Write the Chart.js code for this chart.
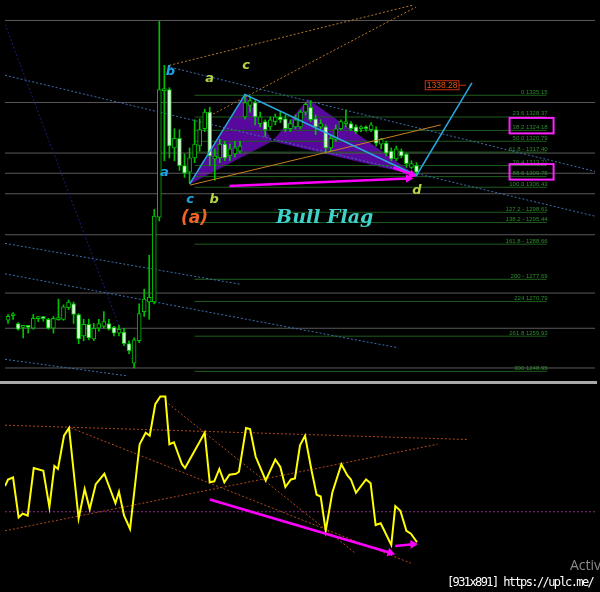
<!DOCTYPE html>
<html>
<head>
<meta charset="utf-8">
<script src="https://cdn.jsdelivr.net/npm/chart.js@4.4.1/dist/chart.umd.min.js"></script>
<style>
  html, body { margin: 0; padding: 0; background: #000; width: 600px; height: 592px; overflow: hidden; }
  #topBox { position: absolute; left: 0; top: 0; width: 600px; height: 381px; }
  #sep { position: absolute; left: 0; top: 381px; width: 597px; height: 3px; background: #a9a9a9; }
  #botBox { position: absolute; left: 0; top: 384px; width: 600px; height: 208px; }
  #activ { position: absolute; left: 570px; top: 555px; color: #8a8a8a; font: 14px "Open Sans", sans-serif; }
  #stamp { position: absolute; left: 447px; top: 575px; color: #fff; font: 12px "DejaVu Sans Mono", monospace;
           letter-spacing: -1.6px; text-shadow: 0 0 2px #000, 0 0 2px #000; white-space: nowrap; }
</style>
</head>
<body>
<div id="topBox"><canvas id="price-chart"></canvas></div>
<div id="sep"></div>
<div id="botBox"><canvas id="osc-chart"></canvas></div>
<div id="activ">Activ</div>
<div id="stamp">[931x891] https://uplc.me/</div>

<script>
// ---- candles (bar index = position in array) ----
const candleOpen  = [1264.9,1266.3,1263.9,1262.7,1262.8,1262.4,1265.4,1265.5,1265.2,1262.4,
                     1265.1,1265.2,1268.8,1270.0,1266.7,1260.0,1263.6,1259.1,1262.4,1263.0,
                     1263.9,1262.7,1260.9,1261.2,1257.6,1251.5,1258.5,1267.6,1270.6,1270.6,
                     1297.1,1336.6,1336.9,1318.7,1321.7,1313.2,1311.1,1315.6,1319.3,1324.7,
                     1329.9,1315.3,1315.6,1319.9,1316.2,1316.8,1317.7,1328.4,1332.0,1332.9,
                     1326.3,1326.9,1325.3,1326.9,1328.4,1327.8,1324.7,1325.3,1325.3,1329.9,
                     1331.4,1327.8,1325.3,1325.3,1318.7,1321.4,1324.7,1326.3,1326.3,1325.3,
                     1324.7,1324.8,1324.4,1324.4,1319.9,1320.2,1317.7,1315.3,1317.7,1316.8,
                     1312.6,1313.2];
const candleHigh  = [1266.7,1267.3,1264.2,1263.0,1263.0,1266.7,1266.1,1266.1,1265.5,1266.1,
                     1271.5,1269.7,1271.2,1270.6,1267.0,1265.2,1265.2,1263.9,1265.2,1267.6,
                     1265.2,1263.0,1263.3,1262.4,1258.5,1259.4,1270.0,1274.6,1285.2,1299.5,
                     1358.2,1344.5,1337.5,1324.7,1324.4,1316.8,1318.7,1327.5,1327.8,1330.8,
                     1331.4,1318.4,1321.4,1320.8,1319.9,1320.8,1320.8,1335.4,1334.5,1333.5,
                     1329.9,1327.5,1328.4,1329.3,1329.9,1329.0,1327.5,1329.0,1330.5,1332.9,
                     1333.5,1329.0,1327.5,1325.9,1322.3,1325.9,1327.5,1330.5,1326.9,1325.9,
                     1325.6,1325.6,1326.6,1325.3,1321.7,1320.8,1318.7,1319.3,1318.4,1317.1,
                     1314.7,1314.1];
const candleLow   = [1263.9,1265.2,1261.8,1259.4,1260.9,1262.1,1264.5,1264.6,1262.1,1260.9,
                     1264.9,1264.9,1268.2,1263.9,1257.6,1258.5,1258.8,1258.5,1261.5,1262.4,
                     1261.8,1260.0,1260.0,1257.0,1254.5,1250.0,1257.9,1266.1,1265.2,1270.0,
                     1295.9,1314.7,1315.6,1314.7,1311.7,1309.5,1307.7,1314.1,1317.7,1323.8,
                     1313.2,1308.6,1314.1,1314.7,1314.7,1315.9,1317.1,1327.8,1329.9,1325.9,
                     1325.3,1322.3,1324.4,1325.9,1326.6,1323.8,1323.8,1324.7,1324.7,1329.0,
                     1326.9,1322.9,1324.7,1317.1,1317.7,1320.8,1324.4,1325.3,1324.1,1323.2,
                     1323.8,1323.9,1323.8,1319.3,1318.4,1316.2,1314.7,1314.7,1315.6,1312.6,
                     1312.3,1310.1];
const candleClose = [1266.1,1266.4,1262.1,1262.8,1262.7,1265.5,1265.5,1265.4,1262.4,1265.5,
                     1265.2,1269.1,1270.6,1266.7,1259.1,1263.6,1259.4,1262.4,1263.9,1264.5,
                     1262.1,1260.9,1262.1,1257.6,1255.4,1258.8,1267.0,1271.5,1272.1,1297.4,
                     1336.9,1337.2,1319.3,1321.7,1313.2,1310.8,1315.6,1319.9,1324.4,1329.9,
                     1316.2,1316.2,1319.9,1315.6,1318.4,1318.7,1319.3,1332.9,1333.5,1328.4,
                     1328.4,1324.4,1327.5,1328.4,1327.5,1324.7,1326.3,1327.5,1329.9,1332.3,
                     1327.5,1325.3,1326.3,1318.7,1321.7,1324.7,1326.9,1326.5,1324.7,1323.8,
                     1324.8,1324.7,1325.9,1320.2,1321.4,1317.1,1315.3,1318.4,1316.2,1313.8,
                     1313.8,1311.1];

// ---- fibonacci levels ----
const fibPct   = ['0', '23.6', '38.2', '50.0', '61.8 -', '76.4', '88.6', '100.0',
                  '127.2 -', '138.2 -', '161.8 -', '200 -', '224', '261.8', '300'];
const fibPrice = [1335.15, 1328.37, 1324.18, 1320.79, 1317.40, 1313.21, 1309.75, 1306.43,
                  1298.61, 1295.44, 1288.66, 1277.69, 1270.79, 1259.93, 1248.95];
const fibBoxed = ['38.2', '88.6'];
const fibFrom = 37, fibTo = 106.8;

// ---- horizontal lines (price) ----
const hLines = [1358.5, 1332.9, 1317.1, 1310.8, 1304.4, 1291.6, 1273.4, 1262.4, 1250.0];

// ---- pattern points X A B C D and projection ----
const patX = [36, 47, 52.4, 59.5, 81, 92];
const patY = [1307.4, 1335.4, 1320.8, 1333.9, 1310.1, 1339.0];
const targetPrice = 1338.28;

// ---- trend lines [x, price] ----
const blueDotted = [
  [[32.2, 1343.9], [116.4, 1311.4]],
  [[-0.6, 1341.4], [116.4, 1297.4]],
  [[-0.6, 1288.9], [46.2, 1276.1]],
  [[-0.6, 1279.4], [77.4, 1256.3]],
  [[-0.6, 1252.7], [23.8, 1247.5]]
];
const navyDotted = [[-0.6, 1357.3], [24.8, 1251.5]];
const orangeDotted = [
  [[32.0, 1344.5], [80.3, 1363.3]],
  [[40.7, 1329.3], [80.9, 1362.7]]
];
const orangeSolid = [[36.1, 1307.1], [85.8, 1325.9]];
const arrowMain = [[43.9, 1306.8], [79.4, 1309.2]];
const arrowSmall = [[76.4, 1312.6], [80.1, 1310.4]];

// ---- text marks [text, x, price] ----
const notesCyan   = [['b', 32.2, 1342.6], ['a', 31.0, 1311.1], ['c', 36.1, 1302.5]];
const notesYellow = [['a', 40.0, 1340.2], ['c', 47.2, 1344.5], ['b', 40.9, 1302.5], ['d', 81.1, 1305.3]];
const noteWave = ['(a)', 37.0, 1296.8];
const noteTitle = ['Bull Flag', 62.8, 1296.8];

// ---- oscillator (lower pane) ----
const oscX = [-0.6, 0, 1, 2.1, 2.9, 3.9, 5.1, 7, 8.2, 9.2, 9.9, 11.1, 12.1, 14, 15.2, 16.2, 17.4, 19.1,
              21.3, 22, 23, 24.2, 26.1, 27.3, 28.1, 29.2, 30.2, 31.2, 32, 32.9, 34.5, 35.1, 39, 40,
              40.9, 41.9, 42.9, 43.9, 45.2, 45.8, 47.2, 48, 49.1, 51.1, 53, 54, 55, 56.1, 56.9, 57.9,
              58.9, 60.2, 61.2, 62, 63, 64.3, 66.1, 67.3, 68, 69, 71, 71.9, 72.9, 73.9, 76, 76.8,
              77.8, 79, 79.9, 81.1];
const oscY = [51, 54.3, 55.3, 35.1, 37, 36.1, 60.1, 58.7, 40.4, 61.1, 59.6, 76.4, 80.3, 34.6, 49.5,
              39.4, 51.9, 57.2, 42.3, 48.1, 36.1, 29.3, 72.1, 77.9, 76.4, 92.3, 96.2, 96.2, 72.1,
              73.1, 62, 60.1, 77.9, 52.9, 53.4, 59.6, 52.9, 56.7, 57.2, 58.2, 80.3, 79.8, 65.9,
              53.8, 64.4, 60.6, 50.5, 54.3, 54.8, 71.6, 76.4, 58.7, 46.6, 45.7, 28.4, 47.6, 62,
              56.3, 54.3, 47.6, 54.3, 52.4, 31.3, 32.2, 21.2, 40.9, 38.5, 28.4, 26.9, 22.6];
const oscLevel = 38;
const oscOrange = [
  [[-0.6, 81.7], [91.0, 74.5]],
  [[-0.6, 28.4], [85.2, 72.1]],
  [[31.2, 93.8], [69.0, 16.8]],
  [[12.5, 80.3], [79.9, 12.0]]
];
const oscArrowMain = [[40.0, 44.2], [75.8, 17.3]];
const oscArrowSmall = [[76.8, 20.7], [80.3, 21.6]];

// ---------------------------------------------------------------
const GREEN = '#00c000';
const PURPLE = '#58089c';
const pts = arr => arr.map(p => ({ x: p[0], y: p[1] }));

function seg(points, color, extra) {
  return Object.assign({
    type: 'line', data: pts(points), borderColor: color, borderWidth: 1,
    pointRadius: 0, fill: false, tension: 0, order: 7
  }, extra || {});
}

function arrow(points, rot, order) {
  return seg(points, '#ff00ff', {
    borderWidth: 2.5, order: order,
    pointRadius: [0, 5], pointStyle: 'triangle', rotation: [0, rot],
    pointBackgroundColor: '#ff00ff', pointBorderColor: '#ff00ff', pointBorderWidth: 0
  });
}

const xScale = { type: 'linear', min: -0.6, max: 116.4, offset: false, display: false };

// text overlay for the price pane
const priceNotes = {
  id: 'priceNotes',
  afterDatasetsDraw(chart) {
    const { ctx, scales: { x, y } } = chart;
    ctx.save();
    ctx.textAlign = 'center';
    ctx.textBaseline = 'middle';
    ctx.font = 'bold italic 13px "DejaVu Sans"';
    ctx.fillStyle = '#1aa6e6';
    notesCyan.forEach(n => ctx.fillText(n[0], x.getPixelForValue(n[1]), y.getPixelForValue(n[2])));
    ctx.fillStyle = '#b4d445';
    notesYellow.forEach(n => ctx.fillText(n[0], x.getPixelForValue(n[1]), y.getPixelForValue(n[2])));
    ctx.font = 'bold italic 17px "DejaVu Sans"';
    ctx.fillStyle = '#f06428';
    ctx.fillText(noteWave[0], x.getPixelForValue(noteWave[1]), y.getPixelForValue(noteWave[2]));
    ctx.font = 'bold italic 19px "DejaVu Serif"';
    ctx.fillStyle = '#3ed2c8';
    ctx.fillText(noteTitle[0], x.getPixelForValue(noteTitle[1]), y.getPixelForValue(noteTitle[2]));

    // fib labels
    ctx.font = '6px "Liberation Sans"';
    ctx.textAlign = 'right';
    ctx.textBaseline = 'alphabetic';
    const rx = x.getPixelForValue(fibTo) + 1;
    fibPrice.forEach((p, i) => {
      const py = y.getPixelForValue(p);
      const label = fibPct[i] + ' ' + p.toFixed(2);
      ctx.fillStyle = '#2e8b2e';
      ctx.fillText(label, rx, py - 1.5);
      if (fibBoxed.indexOf(fibPct[i]) >= 0) {
        const w = ctx.measureText(label).width;
        ctx.strokeStyle = '#ff20ff';
        ctx.lineWidth = 2;
        ctx.strokeRect(rx - w - 3, py - 12.5, w + 9, 15.5);
      }
    });

    // projection target tag
    const right = x.getPixelForValue(patX[5]) - 13;
    const ty = y.getPixelForValue(targetPrice);
    ctx.font = '8.5px "Liberation Sans"';
    ctx.textAlign = 'right';
    ctx.textBaseline = 'middle';
    const tw = ctx.measureText('1338.28').width;
    ctx.fillStyle = '#e05a10';
    ctx.fillText(targetPrice.toFixed(2), right - 1.5, ty);
    ctx.strokeStyle = '#c83210';
    ctx.lineWidth = 1;
    ctx.strokeRect(right - tw - 3, ty - 4.5, tw + 3, 9);
    ctx.beginPath();
    ctx.moveTo(right, ty);
    ctx.lineTo(right + 7, ty);
    ctx.stroke();
    ctx.restore();
  }
};

const idx = candleOpen.map((_, i) => i);
const bull = idx.map(i => candleClose[i] >= candleOpen[i]);

const priceDatasets = [
  // purple harmonic triangles
  seg([[patX[0], patY[0]], [patX[1], patY[1]], [patX[2], patY[2]], [patX[0], patY[0]]], 'rgba(0,0,0,0)',
      { fill: 'shape', backgroundColor: PURPLE, borderWidth: 0, order: 12 }),
  seg([[patX[2], patY[2]], [patX[3], patY[3]], [patX[4], patY[4]], [patX[2], patY[2]]], 'rgba(0,0,0,0)',
      { fill: 'shape', backgroundColor: PURPLE, borderWidth: 0, order: 12 }),
  // candle wicks and bodies
  {
    type: 'bar', order: 5, grouped: false, barThickness: 1,
    data: idx.map(i => ({ x: i, y: [candleLow[i], candleHigh[i]] })),
    backgroundColor: GREEN, borderWidth: 0
  },
  {
    type: 'bar', order: 4, grouped: false, barThickness: 4, minBarLength: 2,
    data: idx.map(i => ({ x: i, y: [Math.min(candleOpen[i], candleClose[i]), Math.max(candleOpen[i], candleClose[i])] })),
    backgroundColor: idx.map(i => bull[i] ? '#000' : '#d8ffd8'),
    borderColor: GREEN, borderWidth: 1, borderSkipped: false
  },
  // XA, AD legs and projection
  seg([[patX[0], patY[0]], [patX[1], patY[1]], [patX[4], patY[4]], [patX[5], patY[5]]], '#2aa8e0',
      { borderWidth: 1.5, order: 3 }),
  seg(orangeSolid, '#c8801e', { order: 3 }),
  seg(navyDotted, '#1c1c78', { borderDash: [2, 2], order: 9 }),
  arrow(arrowMain, 88, 1),
  arrow(arrowSmall, 112, 1)
];
hLines.forEach(p => priceDatasets.push(seg([[-0.6, p], [116.4, p]], '#5a5a5a', { order: 11 })));
fibPrice.forEach(p => priceDatasets.push(seg([[fibFrom, p], [fibTo, p]], '#1e5e1e', { order: 10 })));
blueDotted.forEach(l => priceDatasets.push(seg(l, '#3d6fae', { borderDash: [2, 2], order: 8 })));
orangeDotted.forEach(l => priceDatasets.push(seg(l, '#b5772a', { borderDash: [2, 2], order: 8 })));

new Chart(document.getElementById('price-chart'), {
  type: 'bar',
  data: { datasets: priceDatasets },
  options: {
    responsive: true, maintainAspectRatio: false, animation: false, events: [],
    layout: { padding: 0 },
    plugins: { legend: { display: false }, tooltip: { enabled: false } },
    scales: { x: xScale, y: { type: 'linear', min: 1247.5, max: 1363.33, display: false } }
  },
  plugins: [priceNotes]
});

// lower pane
const oscDatasets = [
  seg(oscX.map((v, i) => [v, oscY[i]]), '#ffff00', { borderWidth: 2, order: 2 }),
  seg([[-0.6, oscLevel], [116.4, oscLevel]], '#8a2a8a', { borderDash: [2, 2], order: 9 }),
  arrow(oscArrowMain, 107, 1),
  arrow(oscArrowSmall, 87, 1)
];
oscOrange.forEach(l => oscDatasets.push(seg(l, '#b04a1e', { borderDash: [2, 2], order: 8 })));

new Chart(document.getElementById('osc-chart'), {
  type: 'line',
  data: { datasets: oscDatasets },
  options: {
    responsive: true, maintainAspectRatio: false, animation: false, events: [],
    layout: { padding: 0 },
    plugins: { legend: { display: false }, tooltip: { enabled: false } },
    scales: { x: xScale, y: { type: 'linear', min: 0, max: 100, display: false } }
  }
});
</script>
</body>
</html>
